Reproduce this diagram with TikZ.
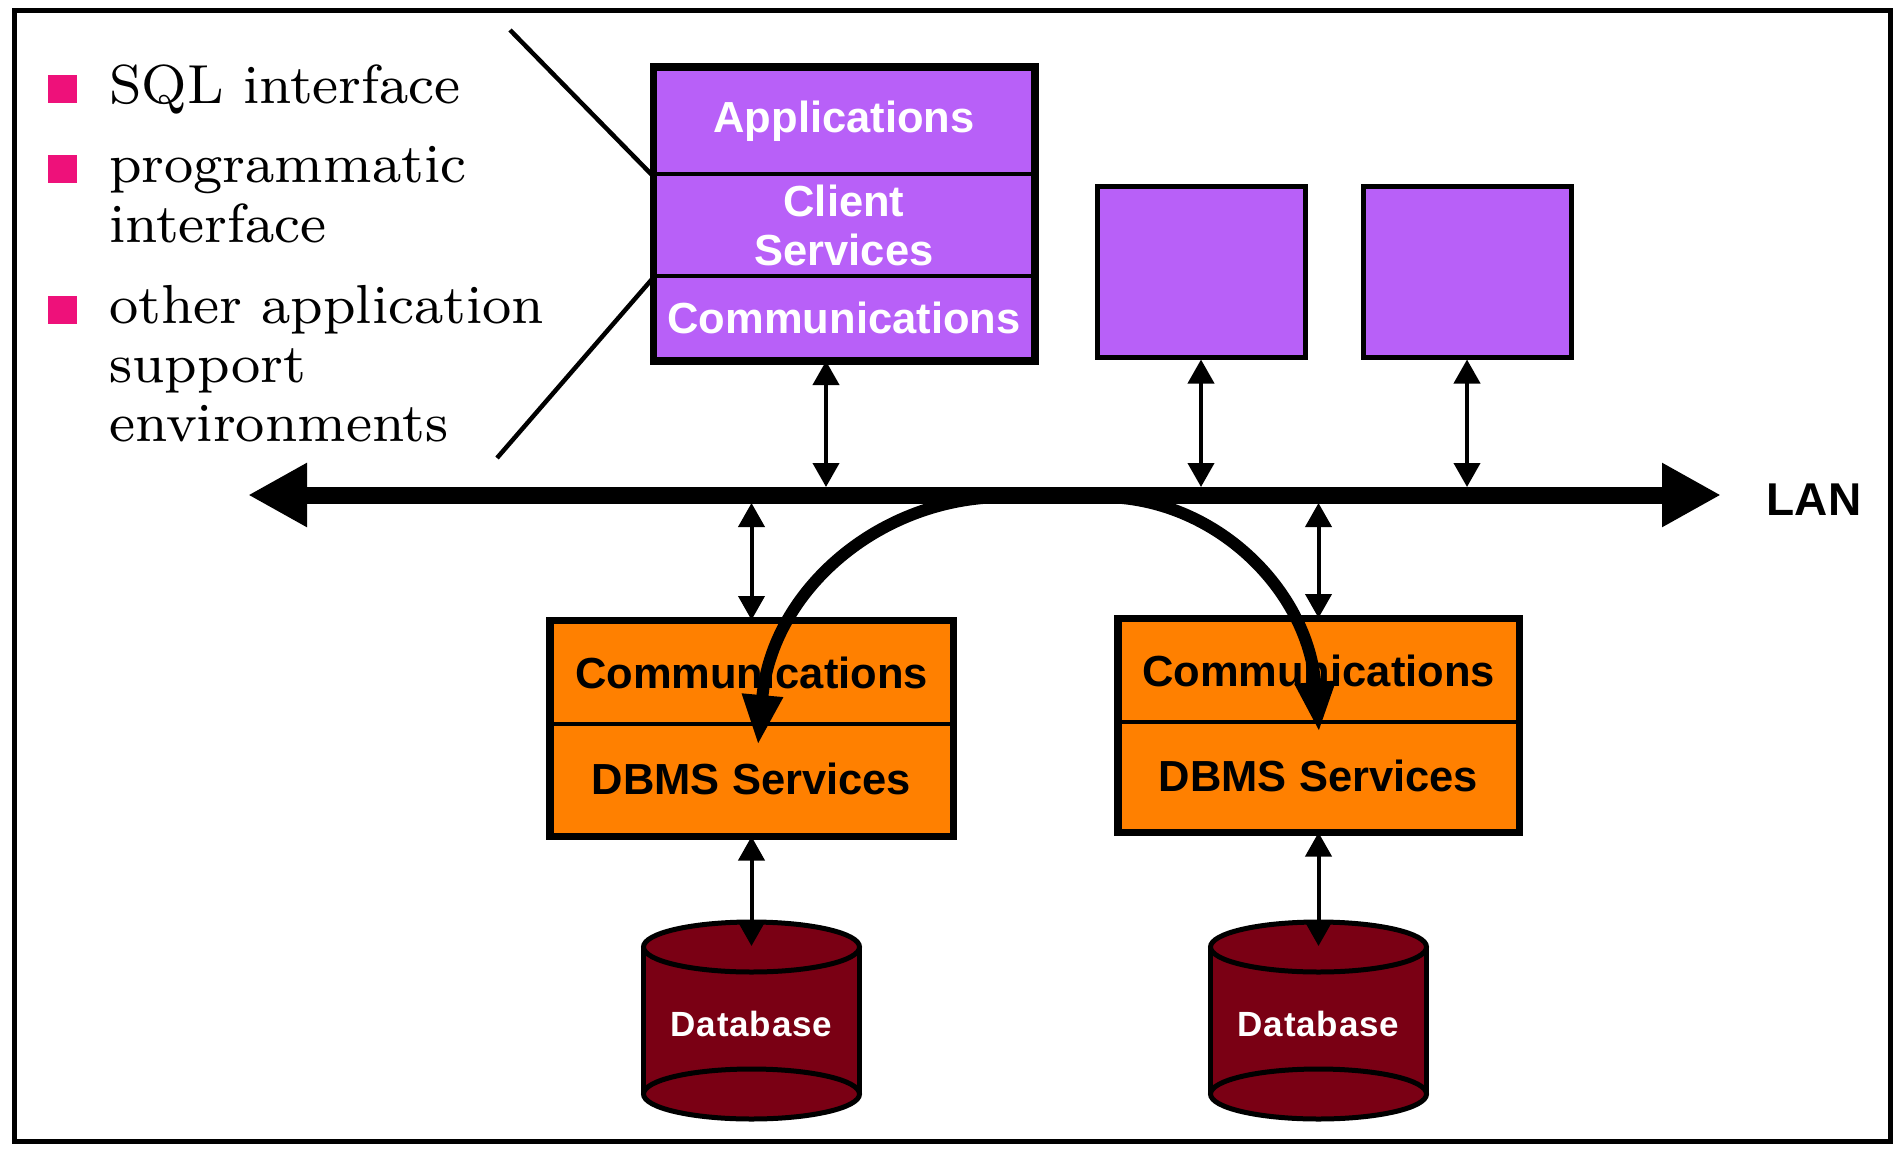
\documentclass[tikz,border=0pt]{standalone}
\usepackage{fontspec}
\newfontfamily\arial{Liberation Sans}
\newfontfamily\arialsp{Liberation Sans}[LetterSpace=2.5]
\newfontfamily\lmeight{lmroman8-regular}[Extension=.otf]
\usetikzlibrary{arrows.meta}
\definecolor{purp}{RGB}{184,96,248}
\definecolor{orng}{RGB}{255,128,0}
\definecolor{dbred}{RGB}{122,0,20}
\definecolor{pinkb}{RGB}{238,17,122}
\tikzset{
  layer/.style={draw=black, line width=4pt, inner sep=0pt, align=center},
  clayer/.style={layer, fill=purp, text=white, minimum width=378pt,
     font=\arial\bfseries\fontsize{43.5}{49}\selectfont},
  olayer/.style={layer, fill=orng, text=black,
     font=\arial\bfseries\fontsize{43.5}{49}\selectfont},
  pcbox/.style={draw=black, line width=5pt, fill=purp, minimum width=208pt, minimum height=171pt, inner sep=0pt},
  bul/.style={inner sep=0pt, anchor=base west, font=\lmeight\fontsize{55}{60}\selectfont},
  bsq/.style={fill=pinkb, minimum width=29pt, minimum height=28pt, inner sep=0pt},
  dbl/.style={line width=4pt, {Triangle[length=24pt,width=26pt]}-{Triangle[length=24pt,width=26pt]}},
  bigarr/.style={line width=12pt, -{Triangle[length=50pt,width=38pt]}},
  dbtext/.style={text=white, inner sep=0pt, font=\arialsp\bfseries\fontsize{35}{40}\selectfont},
  pointer/.style={line width=4.5pt},
}
\newcommand\dbcyl[1]{%
  \fill[dbred] (#1-108,947) rectangle (#1+108,1094);
  \draw[line width=5pt, fill=dbred] (#1,1094) ellipse [x radius=108, y radius=25];
  \draw[line width=5pt] (#1-108,947) -- (#1-108,1094) (#1+108,947) -- (#1+108,1094);
  \draw[line width=5pt, fill=dbred] (#1,947) ellipse [x radius=108, y radius=25];
}
\begin{document}
\begin{tikzpicture}[x=1pt,y=-1pt]
\useasboundingbox (0,0) rectangle (1897,1148);
\draw[line width=5pt] (14,11) rectangle (1890,1141);

% bullets
\node[bsq] (sq1) at (62.5,89) {};
\node[bsq] (sq2) at (62.5,169) {};
\node[bsq] (sq3) at (62.5,310) {};
\node[bul] (b1) at (109,103) {SQL interface};
\node[bul] (b2) at (109,182) {programmatic};
\node[bul] (b3) at (109,242) {interface};
\node[bul] (b4) at (109,323) {other application};
\node[bul] (b5) at (109,382) {support};
\node[bul] (b6) at (109,441) {environments};

% client stack
\node[clayer, minimum height=105pt] (app) at (844,121.5) {Applications};
\node[clayer, minimum height=102pt] (cserv) at (844,225) {Client\\Services};
\node[clayer, minimum height=83pt] (ccomm) at (844,317.5) {Communications};
\draw[line width=7pt] (app.north west) rectangle (ccomm.south east);

% other clients
\node[pcbox] (pc1) at (1201,271.5) {};
\node[pcbox] (pc2) at (1467,271.5) {};

% pointer lines
\coordinate (p1) at (510,30);
\coordinate (p2) at (497,458);
\draw[pointer] (p1) -- (app.south west);
\draw[pointer] (p2) -- (cserv.south west);

% LAN
\coordinate (lanL) at (248,495);
\coordinate (lanR) at (1721,495);
\draw[line width=17pt, {Triangle[length=59pt,width=60pt]}-{Triangle[length=59pt,width=60pt]}] (lanL) -- (lanR);
\node[inner sep=0pt, font=\arial\bfseries\fontsize{46}{50}\selectfont] (lanlbl) at (1814,500) {LAN};

% server stacks
\node[olayer, minimum width=400pt, minimum height=102pt] (o1comm) at (751.5,673) {Communications};
\node[olayer, minimum width=400pt, minimum height=110.5pt] (o1dbms) at (751.5,779.25) {DBMS Services};
\draw[line width=7pt] (o1comm.north west) rectangle (o1dbms.south east);
\node[olayer, minimum width=398pt, minimum height=102pt] (o2comm) at (1318.5,671) {Communications};
\node[olayer, minimum width=398pt, minimum height=108.5pt] (o2dbms) at (1318.5,776.25) {DBMS Services};
\draw[line width=7pt] (o2comm.north west) rectangle (o2dbms.south east);

% databases
\dbcyl{751.5}
\dbcyl{1318.5}
\node[dbtext] (db1) at (751.5,1024) {Database};
\node[dbtext] (db2) at (1318.5,1024) {Database};
\coordinate (db1top) at (751.5,946);
\coordinate (db2top) at (1318.5,946);

% LAN taps
\coordinate (tA) at (826,487);
\coordinate (tB) at (1201,487);
\coordinate (tC) at (1467,487);
\coordinate (tD) at (751.5,503);
\coordinate (tE) at (1318.5,503);
\draw[dbl] (ccomm.south -| tA) -- (tA);
\draw[dbl] (pc1.south) -- (tB);
\draw[dbl] (pc2.south) -- (tC);
\draw[dbl] (tD) -- (o1comm.north);
\draw[dbl] (tE) -- (o2comm.north);
\draw[dbl] (o1dbms.south) -- (db1top);
\draw[dbl] (o2dbms.south) -- (db2top);

% curved transfers
\coordinate (c1s) at (1005,497);
\coordinate (c1e) at (758,745);
\coordinate (c2s) at (1102,497);
\coordinate (c2e) at (1319,732);
\draw[bigarr] (c1s) .. controls (880,497) and (772,590) .. (c1e);
\draw[bigarr] (c2s) .. controls (1215,497) and (1308,590) .. (c2e);
\end{tikzpicture}
\end{document}
